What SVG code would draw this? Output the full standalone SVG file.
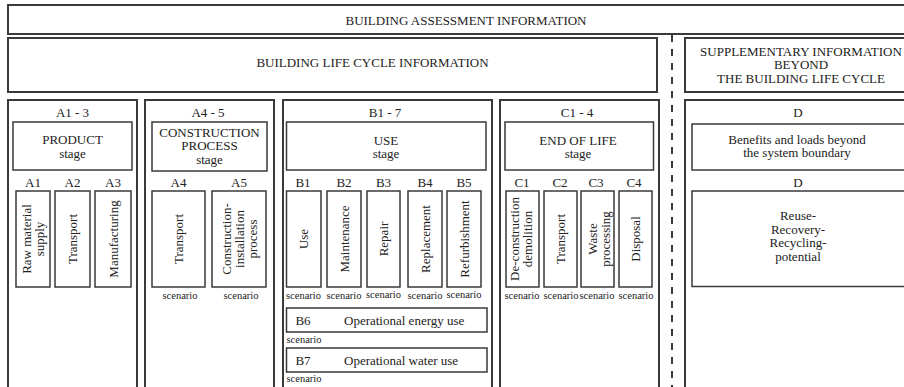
<svg xmlns="http://www.w3.org/2000/svg" width="904" height="387" viewBox="0 0 904 387">
<style>
  .outer{fill:#fff;stroke:#3a3a3a;stroke-width:2}
  .inner{fill:#fff;stroke:#3a3a3a;stroke-width:1.5}
  text{font-family:"Liberation Serif","Times New Roman",serif;fill:#222;font-size:13px}
  .c{text-anchor:middle}
  .s{font-size:10.5px}
  .dash{stroke:#3a3a3a;stroke-width:2;stroke-dasharray:7 7;fill:none}
</style>
<rect width="904" height="387" fill="#fff"/>

<g id="assessment">
  <rect class="outer" x="8" y="5" width="910" height="29"/>
  <text class="c" x="466" y="24.5" font-size="13.4">BUILDING ASSESSMENT INFORMATION</text>
</g>

<g id="lifecycle">
  <rect class="outer" x="8" y="38" width="649" height="54"/>
  <text class="c" x="372.5" y="66.5" font-size="13.4">BUILDING LIFE CYCLE INFORMATION</text>
</g>

<g id="supplementary">
  <rect class="outer" x="685" y="38" width="230" height="54"/>
  <text class="c" x="801" y="55.5">SUPPLEMENTARY INFORMATION</text>
  <text class="c" x="801" y="69">BEYOND</text>
  <text class="c" x="801" y="82.5">THE BUILDING LIFE CYCLE</text>
</g>

<g id="divider">
  <line class="dash" x1="672" y1="35" x2="672" y2="392"/>
</g>

<!-- A1-3 -->
<g id="colA13">
  <rect class="outer" x="8" y="100" width="129" height="295"/>
  <text class="c" x="72.5" y="116.5">A1 - 3</text>
  <rect class="inner" x="13" y="122" width="119" height="48"/>
  <text class="c" x="72.5" y="144">PRODUCT</text>
  <text class="c" x="72.5" y="158">stage</text>
  <text class="c" x="33" y="186.5">A1</text>
  <text class="c" x="72.5" y="186.5">A2</text>
  <text class="c" x="113" y="186.5">A3</text>
</g>
<g id="A1">
  <rect class="inner" x="16" y="191" width="34" height="96"/>
  <g transform="translate(33,239) rotate(-90)">
    <text class="c" x="0" y="-2">Raw material</text>
    <text class="c" x="0" y="11">supply</text>
  </g>
</g>
<g id="A2">
  <rect class="inner" x="55" y="191" width="35" height="96"/>
  <text class="c" transform="translate(72.5,239) rotate(-90)" y="4.5">Transport</text>
</g>
<g id="A3">
  <rect class="inner" x="95" y="191" width="36" height="96"/>
  <text class="c" transform="translate(113,239) rotate(-90)" y="4.5">Manufacturing</text>
</g>

<!-- A4-5 -->
<g id="colA45">
  <rect class="outer" x="145" y="100" width="129" height="295"/>
  <text class="c" x="208" y="116.5">A4 - 5</text>
  <rect class="inner" x="152" y="122" width="115" height="49"/>
  <text class="c" x="209.5" y="136.5">CONSTRUCTION</text>
  <text class="c" x="209.5" y="150">PROCESS</text>
  <text class="c" x="209.5" y="164">stage</text>
  <text class="c" x="178.5" y="186.5">A4</text>
  <text class="c" x="239" y="186.5">A5</text>
</g>
<g id="A4">
  <rect class="inner" x="152" y="191" width="53" height="96"/>
  <text class="c" transform="translate(178.5,239) rotate(-90)" y="4.5">Transport</text>
  <text class="c s" x="180" y="298.5">scenario</text>
</g>
<g id="A5">
  <rect class="inner" x="212" y="191" width="54" height="96"/>
  <g transform="translate(239,239) rotate(-90)">
    <text class="c" x="0" y="-8.5">Construction-</text>
    <text class="c" x="0" y="4.5">installation</text>
    <text class="c" x="0" y="17.5">process</text>
  </g>
  <text class="c s" x="241" y="298.5">scenario</text>
</g>

<!-- B1-7 -->
<g id="colB17">
  <rect class="outer" x="283" y="100" width="209" height="295"/>
  <text class="c" x="385" y="116.5">B1 - 7</text>
  <rect class="inner" x="286.5" y="122" width="199.5" height="48"/>
  <text class="c" x="386" y="144.5">USE</text>
  <text class="c" x="386" y="158">stage</text>
  <text class="c" x="303" y="186.5">B1</text>
  <text class="c" x="344" y="186.5">B2</text>
  <text class="c" x="383.5" y="186.5">B3</text>
  <text class="c" x="425" y="186.5">B4</text>
  <text class="c" x="464" y="186.5">B5</text>
</g>
<g id="B1">
  <rect class="inner" x="286.5" y="191" width="34.5" height="96"/>
  <text class="c" transform="translate(303.5,239) rotate(-90)" y="4.5">Use</text>
  <text class="c s" x="303.5" y="298.5">scenario</text>
</g>
<g id="B2">
  <rect class="inner" x="327" y="191" width="34" height="96"/>
  <text class="c" transform="translate(344,239) rotate(-90)" y="4.5">Maintenance</text>
  <text class="c s" x="344" y="298.5">scenario</text>
</g>
<g id="B3">
  <rect class="inner" x="367" y="191" width="33" height="96"/>
  <text class="c" transform="translate(383.5,239) rotate(-90)" y="4.5">Repair</text>
  <text class="c s" x="383.5" y="298">scenario</text>
</g>
<g id="B4">
  <rect class="inner" x="408" y="191" width="34" height="96"/>
  <text class="c" transform="translate(425,239) rotate(-90)" y="4.5">Replacement</text>
  <text class="c s" x="425" y="298.5">scenario</text>
</g>
<g id="B5">
  <rect class="inner" x="447" y="191" width="34" height="96"/>
  <text class="c" transform="translate(464,239) rotate(-90)" y="4.5">Refurbishment</text>
  <text class="c s" x="464" y="298">scenario</text>
</g>
<g id="B6">
  <rect class="inner" x="286.5" y="308" width="200.5" height="24"/>
  <text class="c" x="303" y="324.5">B6</text>
  <text x="344" y="324.5">Operational energy use</text>
  <text class="s" x="286.5" y="343">scenario</text>
</g>
<g id="B7">
  <rect class="inner" x="286.5" y="348" width="200.5" height="24"/>
  <text class="c" x="303" y="364.5">B7</text>
  <text x="344" y="364.5">Operational water use</text>
  <text class="s" x="286.5" y="381.5">scenario</text>
</g>

<!-- C1-4 -->
<g id="colC14">
  <rect class="outer" x="500" y="100" width="159" height="295"/>
  <text class="c" x="577" y="116.5">C1 - 4</text>
  <rect class="inner" x="505" y="122" width="148.5" height="48"/>
  <text class="c" x="578" y="144.5">END OF LIFE</text>
  <text class="c" x="578" y="158">stage</text>
  <text class="c" x="522" y="186.5">C1</text>
  <text class="c" x="560" y="186.5">C2</text>
  <text class="c" x="596" y="186.5">C3</text>
  <text class="c" x="634" y="186.5">C4</text>
</g>
<g id="C1">
  <rect class="inner" x="506" y="191" width="33" height="96"/>
  <g transform="translate(522.5,239) rotate(-90)">
    <text class="c" x="0" y="-4">De-construction</text>
    <text class="c" x="0" y="9">demolition</text>
  </g>
  <text class="c s" x="522" y="299">scenario</text>
</g>
<g id="C2">
  <rect class="inner" x="544" y="191" width="33" height="96"/>
  <text class="c" transform="translate(560.5,239) rotate(-90)" y="4.5">Transport</text>
  <text class="c s" x="561" y="299">scenario</text>
</g>
<g id="C3">
  <rect class="inner" x="581" y="191" width="33" height="96"/>
  <g transform="translate(597.5,239) rotate(-90)">
    <text class="c" x="0" y="-1">Waste</text>
    <text class="c" x="0" y="12">processing</text>
  </g>
  <text class="c s" x="597" y="298.5">scenario</text>
</g>
<g id="C4">
  <rect class="inner" x="619" y="191" width="33" height="96"/>
  <text class="c" transform="translate(635,239) rotate(-90)" y="4.5">Disposal</text>
  <text class="c s" x="636" y="299">scenario</text>
</g>

<!-- D -->
<g id="colD">
  <rect class="outer" x="685" y="100" width="230" height="295"/>
  <text class="c" x="798" y="116.5">D</text>
  <rect class="inner" x="692" y="124" width="220" height="46"/>
  <text class="c" x="797" y="143.5">Benefits and loads beyond</text>
  <text class="c" x="797" y="157">the system boundary</text>
  <text class="c" x="798" y="186.5">D</text>
</g>
<g id="D">
  <rect class="inner" x="692" y="191" width="220" height="95.5"/>
  <text class="c" x="798" y="220">Reuse-</text>
  <text class="c" x="798" y="233.5">Recovery-</text>
  <text class="c" x="798" y="247">Recycling-</text>
  <text class="c" x="798" y="260.5">potential</text>
</g>
</svg>
